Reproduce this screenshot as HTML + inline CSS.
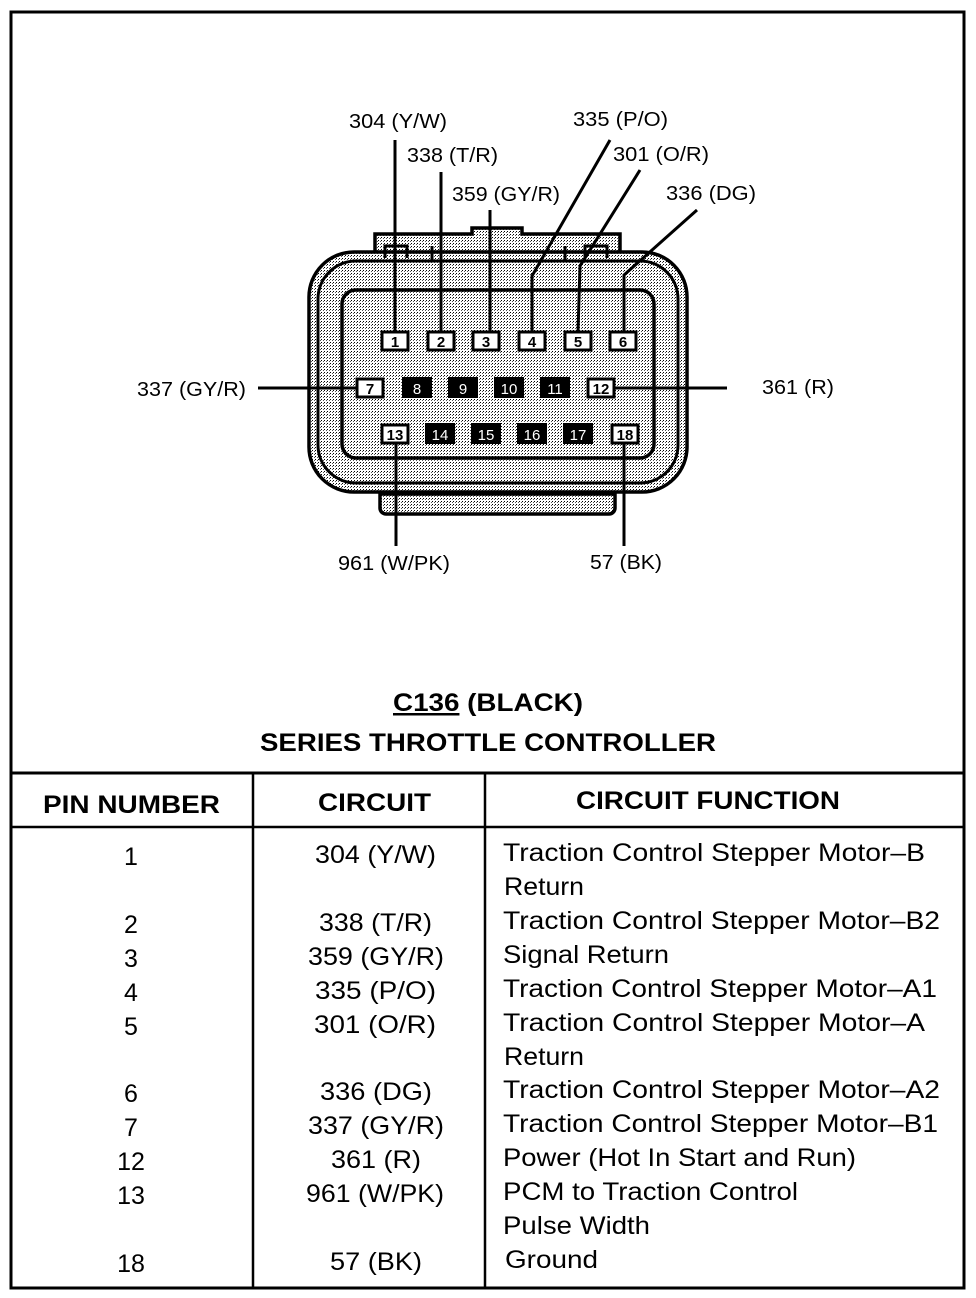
<!DOCTYPE html>
<html><head><meta charset="utf-8"><style>
body{margin:0;background:#fff}
svg{display:block}
text{font-family:"Liberation Sans",Arial,sans-serif;fill:#000}
</style></head><body>
<svg width="976" height="1298" viewBox="0 0 976 1298" xmlns="http://www.w3.org/2000/svg">
<defs>
<pattern id="dots" width="3" height="3" patternUnits="userSpaceOnUse">
<rect width="3" height="3" fill="#fff"/><rect width="1" height="1" fill="#000"/><rect x="2" y="1" width="1" height="1" fill="#555"/>
</pattern>
</defs>
<rect x="11" y="12" width="953" height="1276" fill="none" stroke="#000" stroke-width="3"/>
<line x1="11" y1="773" x2="964" y2="773" stroke="#000" stroke-width="3"/>
<line x1="11" y1="827" x2="964" y2="827" stroke="#000" stroke-width="2.5"/>
<line x1="253" y1="773" x2="253" y2="1288" stroke="#000" stroke-width="2.5"/>
<line x1="485" y1="773" x2="485" y2="1288" stroke="#000" stroke-width="2.5"/>

<g stroke="#000" stroke-width="3.5" fill="url(#dots)">
<path d="M380,494 h235 v14 a6,6 0 0 1 -6,6 h-223 a6,6 0 0 1 -6,-6 z"/>
<path d="M375,234 h97 v-6 h50 v6 h98 v20 h-245 z"/>
<rect x="309" y="252" width="378" height="240" rx="45"/>
</g>
<rect x="318" y="261" width="360" height="222" rx="38" fill="none" stroke="#000" stroke-width="3"/>
<rect x="342" y="290" width="312" height="168" rx="14" fill="url(#dots)" stroke="#000" stroke-width="3.5"/>
<g stroke="#000" stroke-width="3" fill="none">
<path d="M385,258 v-12 h22 v12"/>
<path d="M585,258 v-12 h22 v12"/>
<line x1="432" y1="246" x2="432" y2="262"/><line x1="565" y1="246" x2="565" y2="262"/>
</g>

<g stroke="#000" stroke-width="3" fill="none">
<line x1="395" y1="140" x2="395" y2="332"/>
<line x1="441" y1="172" x2="441" y2="332"/>
<line x1="490" y1="210" x2="490" y2="332"/>
<polyline points="610,140 532,276 532,332"/>
<polyline points="640,170 580,266 578,332"/>
<polyline points="697,210 624,275 624,332"/>
<line x1="258" y1="388" x2="358" y2="388"/>
<line x1="614" y1="388" x2="727" y2="388"/>
<line x1="396" y1="442" x2="396" y2="546"/>
<line x1="624" y1="442" x2="624" y2="546"/>
</g>

<g font-size="15" font-weight="bold" text-anchor="middle">
<g stroke="#000" stroke-width="3" fill="#fff">
<rect x="382" y="332" width="26" height="18"/><rect x="428" y="332" width="26" height="18"/>
<rect x="473" y="332" width="26" height="18"/><rect x="519" y="332" width="26" height="18"/>
<rect x="565" y="332" width="26" height="18"/><rect x="610" y="332" width="26" height="18"/>
<rect x="357" y="379" width="26" height="18"/><rect x="588" y="379" width="26" height="18"/>
<rect x="382" y="425" width="26" height="18"/><rect x="612" y="425" width="26" height="18"/>
</g>
<g fill="#000">
<rect x="402" y="377" width="30" height="21"/><rect x="448" y="377" width="30" height="21"/>
<rect x="494" y="377" width="30" height="21"/><rect x="540" y="377" width="30" height="21"/>
<rect x="425" y="423" width="30" height="21"/><rect x="471" y="423" width="30" height="21"/>
<rect x="517" y="423" width="30" height="21"/><rect x="563" y="423" width="30" height="21"/>
</g>
<text x="395" y="347">1</text><text x="441" y="347">2</text><text x="486" y="347">3</text>
<text x="532" y="347">4</text><text x="578" y="347">5</text><text x="623" y="347">6</text>
<text x="370" y="394">7</text><text x="601" y="394">12</text>
<text x="395" y="440">13</text><text x="625" y="440">18</text>
<g font-weight="normal">
<text x="417" y="394" style="fill:#fff">8</text><text x="463" y="394" style="fill:#fff">9</text>
<text x="509" y="394" style="fill:#fff">10</text><text x="555" y="394" style="fill:#fff">11</text>
<text x="440" y="440" style="fill:#fff">14</text><text x="486" y="440" style="fill:#fff">15</text>
<text x="532" y="440" style="fill:#fff">16</text><text x="578" y="440" style="fill:#fff">17</text>
</g>
</g>

<g font-size="20">
<text x="349" y="128" textLength="98" lengthAdjust="spacingAndGlyphs">304 (Y/W)</text>
<text x="407" y="162" textLength="91" lengthAdjust="spacingAndGlyphs">338 (T/R)</text>
<text x="452" y="201" textLength="108" lengthAdjust="spacingAndGlyphs">359 (GY/R)</text>
<text x="573" y="126" textLength="95" lengthAdjust="spacingAndGlyphs">335 (P/O)</text>
<text x="613" y="161" textLength="96" lengthAdjust="spacingAndGlyphs">301 (O/R)</text>
<text x="666" y="200" textLength="90" lengthAdjust="spacingAndGlyphs">336 (DG)</text>
<text x="137" y="396" textLength="109" lengthAdjust="spacingAndGlyphs">337 (GY/R)</text>
<text x="762" y="394" textLength="72" lengthAdjust="spacingAndGlyphs">361 (R)</text>
<text x="338" y="570" textLength="112" lengthAdjust="spacingAndGlyphs">961 (W/PK)</text>
<text x="590" y="569" textLength="72" lengthAdjust="spacingAndGlyphs">57 (BK)</text>
</g>

<g font-size="25" font-weight="bold">
<text x="393" y="711" textLength="190" lengthAdjust="spacingAndGlyphs"><tspan text-decoration="underline">C136</tspan> (BLACK)</text>
<text x="260" y="751" textLength="456" lengthAdjust="spacingAndGlyphs">SERIES THROTTLE CONTROLLER</text>
<text x="43" y="813" textLength="177" lengthAdjust="spacingAndGlyphs">PIN NUMBER</text>
<text x="318" y="811" textLength="113" lengthAdjust="spacingAndGlyphs">CIRCUIT</text>
<text x="576" y="809" textLength="264" lengthAdjust="spacingAndGlyphs">CIRCUIT FUNCTION</text>
</g>

<g font-size="25" text-anchor="middle">
<text x="131" y="865">1</text><text x="131" y="933">2</text><text x="131" y="967">3</text>
<text x="131" y="1001">4</text><text x="131" y="1035">5</text><text x="131" y="1102">6</text>
<text x="131" y="1136">7</text><text x="131" y="1170">12</text><text x="131" y="1204">13</text>
<text x="131" y="1272">18</text>
</g>
<g font-size="25">
<text x="315" y="863" textLength="121" lengthAdjust="spacingAndGlyphs">304 (Y/W)</text>
<text x="319" y="931" textLength="113" lengthAdjust="spacingAndGlyphs">338 (T/R)</text>
<text x="308" y="965" textLength="136" lengthAdjust="spacingAndGlyphs">359 (GY/R)</text>
<text x="315" y="999" textLength="121" lengthAdjust="spacingAndGlyphs">335 (P/O)</text>
<text x="314" y="1033" textLength="122" lengthAdjust="spacingAndGlyphs">301 (O/R)</text>
<text x="320" y="1100" textLength="112" lengthAdjust="spacingAndGlyphs">336 (DG)</text>
<text x="308" y="1134" textLength="136" lengthAdjust="spacingAndGlyphs">337 (GY/R)</text>
<text x="331" y="1168" textLength="90" lengthAdjust="spacingAndGlyphs">361 (R)</text>
<text x="306" y="1202" textLength="138" lengthAdjust="spacingAndGlyphs">961 (W/PK)</text>
<text x="330" y="1270" textLength="92" lengthAdjust="spacingAndGlyphs">57 (BK)</text>

<text x="503" y="861" textLength="422" lengthAdjust="spacingAndGlyphs">Traction Control Stepper Motor–B</text>
<text x="504" y="895" textLength="80" lengthAdjust="spacingAndGlyphs">Return</text>
<text x="503" y="929" textLength="437" lengthAdjust="spacingAndGlyphs">Traction Control Stepper Motor–B2</text>
<text x="503" y="963" textLength="166" lengthAdjust="spacingAndGlyphs">Signal Return</text>
<text x="503" y="997" textLength="434" lengthAdjust="spacingAndGlyphs">Traction Control Stepper Motor–A1</text>
<text x="503" y="1031" textLength="422" lengthAdjust="spacingAndGlyphs">Traction Control Stepper Motor–A</text>
<text x="504" y="1065" textLength="80" lengthAdjust="spacingAndGlyphs">Return</text>
<text x="503" y="1098" textLength="437" lengthAdjust="spacingAndGlyphs">Traction Control Stepper Motor–A2</text>
<text x="503" y="1132" textLength="435" lengthAdjust="spacingAndGlyphs">Traction Control Stepper Motor–B1</text>
<text x="503" y="1166" textLength="353" lengthAdjust="spacingAndGlyphs">Power (Hot In Start and Run)</text>
<text x="503" y="1200" textLength="295" lengthAdjust="spacingAndGlyphs">PCM to Traction Control</text>
<text x="503" y="1234" textLength="147" lengthAdjust="spacingAndGlyphs">Pulse Width</text>
<text x="505" y="1268" textLength="93" lengthAdjust="spacingAndGlyphs">Ground</text>
</g>
</svg>
</body></html>
